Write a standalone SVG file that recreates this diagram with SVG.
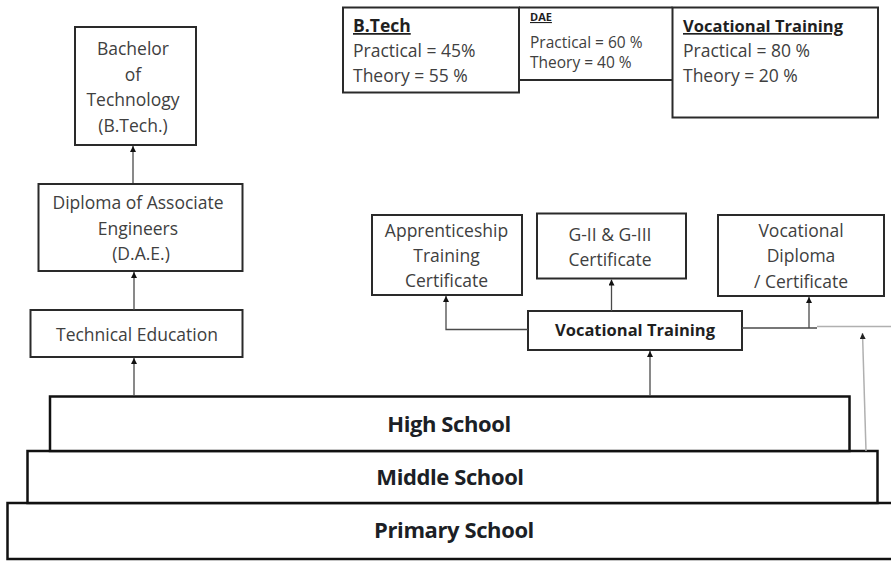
<svg xmlns="http://www.w3.org/2000/svg" width="891" height="561" viewBox="0 0 891 561">
<defs>
<marker id="ah" viewBox="0 0 6 6" refX="6" refY="3" markerWidth="6" markerHeight="6" markerUnits="userSpaceOnUse" orient="auto">
<path d="M0,0 L6,3 L0,6 z" fill="#111"/>
</marker>
<marker id="ahg" viewBox="0 0 6 6" refX="6" refY="3" markerWidth="6" markerHeight="6" markerUnits="userSpaceOnUse" orient="auto">
<path d="M0,0 L6,3 L0,6 z" fill="#222"/>
</marker>
</defs>
<style>
.box{fill:#fff;stroke:#2a2a2a;stroke-width:2}
.step{fill:#fff;stroke:#111;stroke-width:2.5}
.t{font-family:"Open Sans","Liberation Sans",sans-serif;font-size:17.5px;fill:#404040;text-anchor:middle}
.l{text-anchor:start}
.b{font-weight:bold;fill:#1f1f1f}
.big{font-size:22px;font-weight:bold;fill:#1c1f26;letter-spacing:-0.4px}
.u{text-decoration:underline}
.conn{stroke:#4a4a4a;stroke-width:1.3;fill:none}
.arr{marker-end:url(#ah)}
.gray{stroke:#b0b0b0;stroke-width:1.5;fill:none}
.line{stroke:#2a2a2a;stroke-width:2;fill:none}
</style>
<rect width="891" height="561" fill="#fff"/>

<g id="primary">
<rect class="step" x="7.5" y="503" width="900" height="56"/>
<text class="t big" x="454" y="538">Primary School</text>
</g>
<g id="middle">
<rect class="step" x="27.5" y="451" width="850" height="52"/>
<text class="t big" x="450" y="485">Middle School</text>
</g>
<g id="high">
<rect class="step" x="50" y="396.5" width="799.5" height="54.5"/>
<text class="t big" x="449" y="432">High School</text>
</g>

<g id="bachelor">
<rect class="box" x="75" y="27" width="121" height="118"/>
<text class="t" x="133" y="55">Bachelor</text>
<text class="t" x="133" y="81">of</text>
<text class="t" x="133" y="106">Technology</text>
<text class="t" x="133" y="132">(B.Tech.)</text>
</g>
<g id="dae">
<rect class="box" x="38.5" y="184" width="204" height="87"/>
<text class="t" x="138" y="209">Diploma of Associate</text>
<text class="t" x="138" y="235">Engineers</text>
<text class="t" x="141" y="260">(D.A.E.)</text>
</g>
<g id="technical">
<rect class="box" x="30.5" y="310" width="212" height="47"/>
<text class="t" x="137" y="341">Technical Education</text>
</g>

<g id="vocational">
<rect class="box" x="528" y="311" width="214" height="39"/>
<text class="t b" x="635" y="336" style="font-size:16.5px">Vocational Training</text>
</g>
<g id="apprenticeship">
<rect class="box" x="372" y="215" width="150" height="80"/>
<text class="t" x="446.5" y="237">Apprenticeship</text>
<text class="t" x="446.5" y="262">Training</text>
<text class="t" x="446.5" y="287">Certificate</text>
</g>
<g id="g2g3">
<rect class="box" x="537" y="213.5" width="149" height="65"/>
<text class="t" x="610" y="241">G-II &amp; G-III</text>
<text class="t" x="610" y="266">Certificate</text>
</g>
<g id="vocdiploma">
<rect class="box" x="718" y="215" width="166" height="81"/>
<text class="t" x="801" y="237">Vocational</text>
<text class="t" x="801" y="262">Diploma</text>
<text class="t" x="801" y="288">/ Certificate</text>
</g>

<g id="btech-ratio">
<rect class="box" x="343" y="7.5" width="176" height="85"/>
<text class="t l b u" x="353" y="32">B.Tech</text>
<text class="t l" x="353" y="57">Practical = 45%</text>
<text class="t l" x="353" y="82">Theory = 55 %</text>
</g>
<g id="dae-ratio">
<path class="line" d="M519,7.5 H672.5 M519,80 H672.5"/>
<text class="t l b u" x="530" y="21" style="font-size:11px">DAE</text>
<text class="t l" x="530" y="47.5" style="font-size:15.5px">Practical = 60 %</text>
<text class="t l" x="530" y="68" style="font-size:15.5px">Theory = 40 %</text>
</g>
<g id="vt-ratio">
<rect class="box" x="672.5" y="7.5" width="205.5" height="110"/>
<text class="t l b u" x="683" y="32" style="font-size:16.5px">Vocational Training</text>
<text class="t l" x="683" y="57">Practical = 80 %</text>
<text class="t l" x="683" y="82">Theory = 20 %</text>
</g>

<g id="connectors">
<path class="conn arr" d="M133,183 V146"/>
<path class="conn arr" d="M134,310 V272"/>
<path class="conn arr" d="M134,396 V358"/>
<path class="conn arr" d="M650,396 V351"/>
<path class="conn arr" d="M528,329.5 H446 V296"/>
<path class="conn arr" d="M611.5,311 V279.5"/>
<path class="conn" d="M742,328 H817"/>
<path class="conn arr" d="M809,328 V297"/>
<path class="gray" d="M817,326.5 H891"/>
<path class="gray" d="M866,451 L862.5,333" marker-end="url(#ahg)"/>
</g>
</svg>
